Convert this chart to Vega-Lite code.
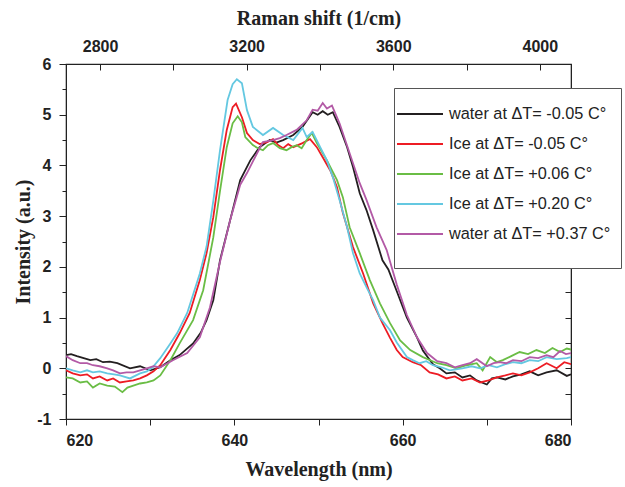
{
  "$schema": "https://vega.github.io/schema/vega-lite/v6.json",
  "width": 505,
  "height": 355,
  "autosize": {"type": "none"},
  "padding": {"left": 66, "top": 64, "right": 54, "bottom": 68},
  "background": "white",
  "config": {
    "view": {"stroke": "#222", "strokeWidth": 1.2},
    "axis": {
      "grid": false,
      "domainColor": "#222",
      "tickColor": "#222",
      "labelColor": "#222",
      "titleColor": "#222",
      "labelFont": "Liberation Sans",
      "labelFontWeight": "bold",
      "labelFontSize": 16,
      "titleFont": "Liberation Serif",
      "titleFontWeight": "bold",
      "titleFontSize": 20
    },
    "legend": {
      "labelFont": "Liberation Sans",
      "labelFontSize": 16.3,
      "labelColor": "#222"
    }
  },
  "layer": [
    {
      "data": {
        "values": [
          {"s": "water at ΔT= -0.05 C°", "w": 620.0, "i": 0.26},
          {"s": "water at ΔT= -0.05 C°", "w": 620.6, "i": 0.28},
          {"s": "water at ΔT= -0.05 C°", "w": 621.3, "i": 0.24},
          {"s": "water at ΔT= -0.05 C°", "w": 622.1, "i": 0.2},
          {"s": "water at ΔT= -0.05 C°", "w": 622.9, "i": 0.16},
          {"s": "water at ΔT= -0.05 C°", "w": 623.6, "i": 0.18},
          {"s": "water at ΔT= -0.05 C°", "w": 624.4, "i": 0.12},
          {"s": "water at ΔT= -0.05 C°", "w": 625.2, "i": 0.13},
          {"s": "water at ΔT= -0.05 C°", "w": 626.1, "i": 0.1},
          {"s": "water at ΔT= -0.05 C°", "w": 627.6, "i": 0.0},
          {"s": "water at ΔT= -0.05 C°", "w": 628.8, "i": 0.04},
          {"s": "water at ΔT= -0.05 C°", "w": 630.0, "i": -0.04},
          {"s": "water at ΔT= -0.05 C°", "w": 631.2, "i": 0.02},
          {"s": "water at ΔT= -0.05 C°", "w": 632.4, "i": 0.16},
          {"s": "water at ΔT= -0.05 C°", "w": 633.5, "i": 0.26},
          {"s": "water at ΔT= -0.05 C°", "w": 635.1, "i": 0.49},
          {"s": "water at ΔT= -0.05 C°", "w": 636.0, "i": 0.7},
          {"s": "water at ΔT= -0.05 C°", "w": 636.7, "i": 0.95},
          {"s": "water at ΔT= -0.05 C°", "w": 637.5, "i": 1.34},
          {"s": "water at ΔT= -0.05 C°", "w": 638.3, "i": 2.13},
          {"s": "water at ΔT= -0.05 C°", "w": 639.5, "i": 2.92},
          {"s": "water at ΔT= -0.05 C°", "w": 640.7, "i": 3.71},
          {"s": "water at ΔT= -0.05 C°", "w": 641.9, "i": 4.1},
          {"s": "water at ΔT= -0.05 C°", "w": 643.0, "i": 4.36},
          {"s": "water at ΔT= -0.05 C°", "w": 644.2, "i": 4.5},
          {"s": "water at ΔT= -0.05 C°", "w": 645.0, "i": 4.45},
          {"s": "water at ΔT= -0.05 C°", "w": 645.8, "i": 4.5},
          {"s": "water at ΔT= -0.05 C°", "w": 647.0, "i": 4.6},
          {"s": "water at ΔT= -0.05 C°", "w": 648.1, "i": 4.76},
          {"s": "water at ΔT= -0.05 C°", "w": 649.3, "i": 5.05},
          {"s": "water at ΔT= -0.05 C°", "w": 649.9, "i": 5.0},
          {"s": "water at ΔT= -0.05 C°", "w": 650.5, "i": 5.07},
          {"s": "water at ΔT= -0.05 C°", "w": 651.1, "i": 5.0},
          {"s": "water at ΔT= -0.05 C°", "w": 651.7, "i": 5.05},
          {"s": "water at ΔT= -0.05 C°", "w": 652.5, "i": 4.76},
          {"s": "water at ΔT= -0.05 C°", "w": 653.4, "i": 4.36},
          {"s": "water at ΔT= -0.05 C°", "w": 654.1, "i": 3.97},
          {"s": "water at ΔT= -0.05 C°", "w": 654.9, "i": 3.45},
          {"s": "water at ΔT= -0.05 C°", "w": 655.7, "i": 3.12},
          {"s": "water at ΔT= -0.05 C°", "w": 656.5, "i": 2.72},
          {"s": "water at ΔT= -0.05 C°", "w": 657.6, "i": 2.13},
          {"s": "water at ΔT= -0.05 C°", "w": 658.3, "i": 1.95},
          {"s": "water at ΔT= -0.05 C°", "w": 659.3, "i": 1.52},
          {"s": "water at ΔT= -0.05 C°", "w": 660.5, "i": 1.0},
          {"s": "water at ΔT= -0.05 C°", "w": 661.7, "i": 0.61},
          {"s": "water at ΔT= -0.05 C°", "w": 662.4, "i": 0.35},
          {"s": "water at ΔT= -0.05 C°", "w": 663.6, "i": 0.08},
          {"s": "water at ΔT= -0.05 C°", "w": 664.4, "i": 0.0},
          {"s": "water at ΔT= -0.05 C°", "w": 665.2, "i": -0.1},
          {"s": "water at ΔT= -0.05 C°", "w": 666.2, "i": -0.08},
          {"s": "water at ΔT= -0.05 C°", "w": 667.1, "i": -0.18},
          {"s": "water at ΔT= -0.05 C°", "w": 668.0, "i": -0.14},
          {"s": "water at ΔT= -0.05 C°", "w": 668.8, "i": -0.24},
          {"s": "water at ΔT= -0.05 C°", "w": 670.0, "i": -0.32},
          {"s": "water at ΔT= -0.05 C°", "w": 670.6, "i": -0.2},
          {"s": "water at ΔT= -0.05 C°", "w": 671.2, "i": -0.18},
          {"s": "water at ΔT= -0.05 C°", "w": 672.2, "i": -0.22},
          {"s": "water at ΔT= -0.05 C°", "w": 673.1, "i": -0.16},
          {"s": "water at ΔT= -0.05 C°", "w": 674.1, "i": -0.12},
          {"s": "water at ΔT= -0.05 C°", "w": 675.1, "i": -0.06},
          {"s": "water at ΔT= -0.05 C°", "w": 676.1, "i": -0.14},
          {"s": "water at ΔT= -0.05 C°", "w": 677.1, "i": -0.08},
          {"s": "water at ΔT= -0.05 C°", "w": 678.3, "i": -0.04},
          {"s": "water at ΔT= -0.05 C°", "w": 679.5, "i": -0.15},
          {"s": "water at ΔT= -0.05 C°", "w": 680.0, "i": -0.12},

          {"s": "Ice at ΔT= -0.05 C°", "w": 620.0, "i": -0.04},
          {"s": "Ice at ΔT= -0.05 C°", "w": 620.8, "i": -0.1},
          {"s": "Ice at ΔT= -0.05 C°", "w": 621.7, "i": -0.14},
          {"s": "Ice at ΔT= -0.05 C°", "w": 622.5, "i": -0.12},
          {"s": "Ice at ΔT= -0.05 C°", "w": 623.2, "i": -0.2},
          {"s": "Ice at ΔT= -0.05 C°", "w": 624.0, "i": -0.16},
          {"s": "Ice at ΔT= -0.05 C°", "w": 624.9, "i": -0.24},
          {"s": "Ice at ΔT= -0.05 C°", "w": 625.6, "i": -0.2},
          {"s": "Ice at ΔT= -0.05 C°", "w": 626.4, "i": -0.28},
          {"s": "Ice at ΔT= -0.05 C°", "w": 627.2, "i": -0.26},
          {"s": "Ice at ΔT= -0.05 C°", "w": 628.0, "i": -0.24},
          {"s": "Ice at ΔT= -0.05 C°", "w": 628.8, "i": -0.2},
          {"s": "Ice at ΔT= -0.05 C°", "w": 629.6, "i": -0.14},
          {"s": "Ice at ΔT= -0.05 C°", "w": 630.4, "i": -0.06},
          {"s": "Ice at ΔT= -0.05 C°", "w": 631.2, "i": 0.06},
          {"s": "Ice at ΔT= -0.05 C°", "w": 632.4, "i": 0.36},
          {"s": "Ice at ΔT= -0.05 C°", "w": 633.5, "i": 0.69},
          {"s": "Ice at ΔT= -0.05 C°", "w": 634.7, "i": 1.09},
          {"s": "Ice at ΔT= -0.05 C°", "w": 635.9, "i": 1.74},
          {"s": "Ice at ΔT= -0.05 C°", "w": 636.7, "i": 2.27},
          {"s": "Ice at ΔT= -0.05 C°", "w": 637.5, "i": 2.98},
          {"s": "Ice at ΔT= -0.05 C°", "w": 638.3, "i": 3.91},
          {"s": "Ice at ΔT= -0.05 C°", "w": 639.1, "i": 4.7},
          {"s": "Ice at ΔT= -0.05 C°", "w": 639.8, "i": 5.15},
          {"s": "Ice at ΔT= -0.05 C°", "w": 640.2, "i": 5.22},
          {"s": "Ice at ΔT= -0.05 C°", "w": 640.9, "i": 4.95},
          {"s": "Ice at ΔT= -0.05 C°", "w": 641.5, "i": 4.64},
          {"s": "Ice at ΔT= -0.05 C°", "w": 642.2, "i": 4.5},
          {"s": "Ice at ΔT= -0.05 C°", "w": 643.0, "i": 4.42},
          {"s": "Ice at ΔT= -0.05 C°", "w": 643.9, "i": 4.46},
          {"s": "Ice at ΔT= -0.05 C°", "w": 644.6, "i": 4.52},
          {"s": "Ice at ΔT= -0.05 C°", "w": 645.2, "i": 4.4},
          {"s": "Ice at ΔT= -0.05 C°", "w": 645.8, "i": 4.34},
          {"s": "Ice at ΔT= -0.05 C°", "w": 646.4, "i": 4.42},
          {"s": "Ice at ΔT= -0.05 C°", "w": 647.0, "i": 4.36},
          {"s": "Ice at ΔT= -0.05 C°", "w": 648.1, "i": 4.44},
          {"s": "Ice at ΔT= -0.05 C°", "w": 649.0, "i": 4.52},
          {"s": "Ice at ΔT= -0.05 C°", "w": 649.8, "i": 4.36},
          {"s": "Ice at ΔT= -0.05 C°", "w": 650.5, "i": 4.16},
          {"s": "Ice at ΔT= -0.05 C°", "w": 651.4, "i": 3.9},
          {"s": "Ice at ΔT= -0.05 C°", "w": 652.2, "i": 3.57},
          {"s": "Ice at ΔT= -0.05 C°", "w": 652.9, "i": 3.06},
          {"s": "Ice at ΔT= -0.05 C°", "w": 654.1, "i": 2.39},
          {"s": "Ice at ΔT= -0.05 C°", "w": 655.3, "i": 1.87},
          {"s": "Ice at ΔT= -0.05 C°", "w": 656.5, "i": 1.28},
          {"s": "Ice at ΔT= -0.05 C°", "w": 657.6, "i": 0.89},
          {"s": "Ice at ΔT= -0.05 C°", "w": 658.5, "i": 0.6},
          {"s": "Ice at ΔT= -0.05 C°", "w": 659.3, "i": 0.36},
          {"s": "Ice at ΔT= -0.05 C°", "w": 660.0, "i": 0.22},
          {"s": "Ice at ΔT= -0.05 C°", "w": 661.2, "i": 0.12},
          {"s": "Ice at ΔT= -0.05 C°", "w": 662.2, "i": 0.06},
          {"s": "Ice at ΔT= -0.05 C°", "w": 663.2, "i": -0.08},
          {"s": "Ice at ΔT= -0.05 C°", "w": 664.2, "i": -0.12},
          {"s": "Ice at ΔT= -0.05 C°", "w": 665.2, "i": -0.2},
          {"s": "Ice at ΔT= -0.05 C°", "w": 666.2, "i": -0.16},
          {"s": "Ice at ΔT= -0.05 C°", "w": 667.1, "i": -0.24},
          {"s": "Ice at ΔT= -0.05 C°", "w": 668.2, "i": -0.2},
          {"s": "Ice at ΔT= -0.05 C°", "w": 669.2, "i": -0.28},
          {"s": "Ice at ΔT= -0.05 C°", "w": 670.2, "i": -0.24},
          {"s": "Ice at ΔT= -0.05 C°", "w": 671.2, "i": -0.18},
          {"s": "Ice at ΔT= -0.05 C°", "w": 672.2, "i": -0.14},
          {"s": "Ice at ΔT= -0.05 C°", "w": 673.1, "i": -0.1},
          {"s": "Ice at ΔT= -0.05 C°", "w": 674.1, "i": -0.14},
          {"s": "Ice at ΔT= -0.05 C°", "w": 675.1, "i": -0.08},
          {"s": "Ice at ΔT= -0.05 C°", "w": 676.1, "i": 0.0},
          {"s": "Ice at ΔT= -0.05 C°", "w": 677.1, "i": 0.1},
          {"s": "Ice at ΔT= -0.05 C°", "w": 678.3, "i": 0.0},
          {"s": "Ice at ΔT= -0.05 C°", "w": 679.2, "i": 0.12},
          {"s": "Ice at ΔT= -0.05 C°", "w": 680.0, "i": 0.08},

          {"s": "Ice at ΔT= +0.06 C°", "w": 620.0, "i": -0.18},
          {"s": "Ice at ΔT= +0.06 C°", "w": 620.8, "i": -0.2},
          {"s": "Ice at ΔT= +0.06 C°", "w": 621.7, "i": -0.28},
          {"s": "Ice at ΔT= +0.06 C°", "w": 622.5, "i": -0.26},
          {"s": "Ice at ΔT= +0.06 C°", "w": 623.2, "i": -0.38},
          {"s": "Ice at ΔT= +0.06 C°", "w": 624.0, "i": -0.3},
          {"s": "Ice at ΔT= +0.06 C°", "w": 624.9, "i": -0.34},
          {"s": "Ice at ΔT= +0.06 C°", "w": 625.8, "i": -0.36},
          {"s": "Ice at ΔT= +0.06 C°", "w": 626.7, "i": -0.47},
          {"s": "Ice at ΔT= +0.06 C°", "w": 627.3, "i": -0.38},
          {"s": "Ice at ΔT= +0.06 C°", "w": 628.0, "i": -0.34},
          {"s": "Ice at ΔT= +0.06 C°", "w": 628.8, "i": -0.3},
          {"s": "Ice at ΔT= +0.06 C°", "w": 629.6, "i": -0.28},
          {"s": "Ice at ΔT= +0.06 C°", "w": 630.4, "i": -0.24},
          {"s": "Ice at ΔT= +0.06 C°", "w": 631.2, "i": -0.14},
          {"s": "Ice at ΔT= +0.06 C°", "w": 632.4, "i": 0.16},
          {"s": "Ice at ΔT= +0.06 C°", "w": 633.5, "i": 0.49},
          {"s": "Ice at ΔT= +0.06 C°", "w": 635.1, "i": 0.95},
          {"s": "Ice at ΔT= +0.06 C°", "w": 636.3, "i": 1.54},
          {"s": "Ice at ΔT= +0.06 C°", "w": 637.5, "i": 2.58},
          {"s": "Ice at ΔT= +0.06 C°", "w": 638.3, "i": 3.5},
          {"s": "Ice at ΔT= +0.06 C°", "w": 639.1, "i": 4.36},
          {"s": "Ice at ΔT= +0.06 C°", "w": 639.8, "i": 4.83},
          {"s": "Ice at ΔT= +0.06 C°", "w": 640.4, "i": 4.97},
          {"s": "Ice at ΔT= +0.06 C°", "w": 640.9, "i": 4.85},
          {"s": "Ice at ΔT= +0.06 C°", "w": 641.3, "i": 4.56},
          {"s": "Ice at ΔT= +0.06 C°", "w": 642.2, "i": 4.4},
          {"s": "Ice at ΔT= +0.06 C°", "w": 642.8, "i": 4.34},
          {"s": "Ice at ΔT= +0.06 C°", "w": 643.4, "i": 4.3},
          {"s": "Ice at ΔT= +0.06 C°", "w": 644.0, "i": 4.4},
          {"s": "Ice at ΔT= +0.06 C°", "w": 644.6, "i": 4.44},
          {"s": "Ice at ΔT= +0.06 C°", "w": 645.4, "i": 4.34},
          {"s": "Ice at ΔT= +0.06 C°", "w": 646.2, "i": 4.3},
          {"s": "Ice at ΔT= +0.06 C°", "w": 646.8, "i": 4.36},
          {"s": "Ice at ΔT= +0.06 C°", "w": 647.4, "i": 4.4},
          {"s": "Ice at ΔT= +0.06 C°", "w": 648.0, "i": 4.34},
          {"s": "Ice at ΔT= +0.06 C°", "w": 648.6, "i": 4.5},
          {"s": "Ice at ΔT= +0.06 C°", "w": 649.2, "i": 4.64},
          {"s": "Ice at ΔT= +0.06 C°", "w": 649.8, "i": 4.44},
          {"s": "Ice at ΔT= +0.06 C°", "w": 651.0, "i": 4.1},
          {"s": "Ice at ΔT= +0.06 C°", "w": 652.2, "i": 3.71},
          {"s": "Ice at ΔT= +0.06 C°", "w": 652.9, "i": 3.37},
          {"s": "Ice at ΔT= +0.06 C°", "w": 653.7, "i": 2.78},
          {"s": "Ice at ΔT= +0.06 C°", "w": 654.9, "i": 2.27},
          {"s": "Ice at ΔT= +0.06 C°", "w": 656.1, "i": 1.74},
          {"s": "Ice at ΔT= +0.06 C°", "w": 657.3, "i": 1.28},
          {"s": "Ice at ΔT= +0.06 C°", "w": 658.5, "i": 0.89},
          {"s": "Ice at ΔT= +0.06 C°", "w": 659.7, "i": 0.55},
          {"s": "Ice at ΔT= +0.06 C°", "w": 660.9, "i": 0.36},
          {"s": "Ice at ΔT= +0.06 C°", "w": 662.4, "i": 0.22},
          {"s": "Ice at ΔT= +0.06 C°", "w": 664.1, "i": 0.1},
          {"s": "Ice at ΔT= +0.06 C°", "w": 665.2, "i": 0.06},
          {"s": "Ice at ΔT= +0.06 C°", "w": 666.4, "i": 0.0},
          {"s": "Ice at ΔT= +0.06 C°", "w": 667.6, "i": 0.06},
          {"s": "Ice at ΔT= +0.06 C°", "w": 668.8, "i": 0.1},
          {"s": "Ice at ΔT= +0.06 C°", "w": 669.5, "i": -0.04},
          {"s": "Ice at ΔT= +0.06 C°", "w": 670.4, "i": 0.22},
          {"s": "Ice at ΔT= +0.06 C°", "w": 671.2, "i": 0.12},
          {"s": "Ice at ΔT= +0.06 C°", "w": 671.9, "i": 0.16},
          {"s": "Ice at ΔT= +0.06 C°", "w": 672.9, "i": 0.24},
          {"s": "Ice at ΔT= +0.06 C°", "w": 673.9, "i": 0.32},
          {"s": "Ice at ΔT= +0.06 C°", "w": 674.9, "i": 0.28},
          {"s": "Ice at ΔT= +0.06 C°", "w": 675.9, "i": 0.36},
          {"s": "Ice at ΔT= +0.06 C°", "w": 676.9, "i": 0.3},
          {"s": "Ice at ΔT= +0.06 C°", "w": 677.8, "i": 0.4},
          {"s": "Ice at ΔT= +0.06 C°", "w": 678.7, "i": 0.32},
          {"s": "Ice at ΔT= +0.06 C°", "w": 679.5, "i": 0.39},
          {"s": "Ice at ΔT= +0.06 C°", "w": 680.0, "i": 0.37},

          {"s": "Ice at ΔT= +0.20 C°", "w": 620.0, "i": 0.0},
          {"s": "Ice at ΔT= +0.20 C°", "w": 620.8, "i": -0.04},
          {"s": "Ice at ΔT= +0.20 C°", "w": 621.7, "i": -0.08},
          {"s": "Ice at ΔT= +0.20 C°", "w": 622.5, "i": -0.04},
          {"s": "Ice at ΔT= +0.20 C°", "w": 623.2, "i": -0.08},
          {"s": "Ice at ΔT= +0.20 C°", "w": 624.0, "i": -0.06},
          {"s": "Ice at ΔT= +0.20 C°", "w": 624.9, "i": -0.1},
          {"s": "Ice at ΔT= +0.20 C°", "w": 625.7, "i": -0.12},
          {"s": "Ice at ΔT= +0.20 C°", "w": 626.4, "i": -0.14},
          {"s": "Ice at ΔT= +0.20 C°", "w": 627.6, "i": -0.2},
          {"s": "Ice at ΔT= +0.20 C°", "w": 628.8, "i": -0.1},
          {"s": "Ice at ΔT= +0.20 C°", "w": 629.6, "i": -0.06},
          {"s": "Ice at ΔT= +0.20 C°", "w": 630.3, "i": 0.02},
          {"s": "Ice at ΔT= +0.20 C°", "w": 631.2, "i": 0.2},
          {"s": "Ice at ΔT= +0.20 C°", "w": 632.4, "i": 0.49},
          {"s": "Ice at ΔT= +0.20 C°", "w": 633.2, "i": 0.69},
          {"s": "Ice at ΔT= +0.20 C°", "w": 634.4, "i": 1.09},
          {"s": "Ice at ΔT= +0.20 C°", "w": 635.9, "i": 1.87},
          {"s": "Ice at ΔT= +0.20 C°", "w": 636.7, "i": 2.4},
          {"s": "Ice at ΔT= +0.20 C°", "w": 637.5, "i": 3.3},
          {"s": "Ice at ΔT= +0.20 C°", "w": 638.3, "i": 4.3},
          {"s": "Ice at ΔT= +0.20 C°", "w": 639.2, "i": 5.29},
          {"s": "Ice at ΔT= +0.20 C°", "w": 639.8, "i": 5.6},
          {"s": "Ice at ΔT= +0.20 C°", "w": 640.3, "i": 5.7},
          {"s": "Ice at ΔT= +0.20 C°", "w": 640.9, "i": 5.62},
          {"s": "Ice at ΔT= +0.20 C°", "w": 641.5, "i": 5.09},
          {"s": "Ice at ΔT= +0.20 C°", "w": 642.2, "i": 4.76},
          {"s": "Ice at ΔT= +0.20 C°", "w": 643.4, "i": 4.6},
          {"s": "Ice at ΔT= +0.20 C°", "w": 644.6, "i": 4.74},
          {"s": "Ice at ΔT= +0.20 C°", "w": 645.8, "i": 4.6},
          {"s": "Ice at ΔT= +0.20 C°", "w": 647.0, "i": 4.5},
          {"s": "Ice at ΔT= +0.20 C°", "w": 648.1, "i": 4.74},
          {"s": "Ice at ΔT= +0.20 C°", "w": 648.6, "i": 4.56},
          {"s": "Ice at ΔT= +0.20 C°", "w": 649.3, "i": 4.66},
          {"s": "Ice at ΔT= +0.20 C°", "w": 650.2, "i": 4.36},
          {"s": "Ice at ΔT= +0.20 C°", "w": 651.0, "i": 4.1},
          {"s": "Ice at ΔT= +0.20 C°", "w": 651.7, "i": 3.77},
          {"s": "Ice at ΔT= +0.20 C°", "w": 652.5, "i": 3.32},
          {"s": "Ice at ΔT= +0.20 C°", "w": 653.4, "i": 2.78},
          {"s": "Ice at ΔT= +0.20 C°", "w": 654.1, "i": 2.27},
          {"s": "Ice at ΔT= +0.20 C°", "w": 654.9, "i": 1.87},
          {"s": "Ice at ΔT= +0.20 C°", "w": 655.7, "i": 1.6},
          {"s": "Ice at ΔT= +0.20 C°", "w": 656.5, "i": 1.34},
          {"s": "Ice at ΔT= +0.20 C°", "w": 657.3, "i": 1.0},
          {"s": "Ice at ΔT= +0.20 C°", "w": 658.5, "i": 0.75},
          {"s": "Ice at ΔT= +0.20 C°", "w": 659.3, "i": 0.51},
          {"s": "Ice at ΔT= +0.20 C°", "w": 660.5, "i": 0.22},
          {"s": "Ice at ΔT= +0.20 C°", "w": 661.2, "i": 0.16},
          {"s": "Ice at ΔT= +0.20 C°", "w": 662.0, "i": 0.1},
          {"s": "Ice at ΔT= +0.20 C°", "w": 662.8, "i": 0.14},
          {"s": "Ice at ΔT= +0.20 C°", "w": 663.6, "i": 0.06},
          {"s": "Ice at ΔT= +0.20 C°", "w": 664.6, "i": 0.02},
          {"s": "Ice at ΔT= +0.20 C°", "w": 665.6, "i": -0.04},
          {"s": "Ice at ΔT= +0.20 C°", "w": 667.1, "i": 0.0},
          {"s": "Ice at ΔT= +0.20 C°", "w": 668.2, "i": 0.04},
          {"s": "Ice at ΔT= +0.20 C°", "w": 669.2, "i": 0.0},
          {"s": "Ice at ΔT= +0.20 C°", "w": 670.2, "i": 0.06},
          {"s": "Ice at ΔT= +0.20 C°", "w": 671.2, "i": 0.02},
          {"s": "Ice at ΔT= +0.20 C°", "w": 672.2, "i": 0.08},
          {"s": "Ice at ΔT= +0.20 C°", "w": 673.1, "i": 0.12},
          {"s": "Ice at ΔT= +0.20 C°", "w": 674.1, "i": 0.1},
          {"s": "Ice at ΔT= +0.20 C°", "w": 675.1, "i": 0.16},
          {"s": "Ice at ΔT= +0.20 C°", "w": 676.1, "i": 0.14},
          {"s": "Ice at ΔT= +0.20 C°", "w": 677.1, "i": 0.22},
          {"s": "Ice at ΔT= +0.20 C°", "w": 678.3, "i": 0.18},
          {"s": "Ice at ΔT= +0.20 C°", "w": 679.5, "i": 0.2},
          {"s": "Ice at ΔT= +0.20 C°", "w": 680.0, "i": 0.22},

          {"s": "water at ΔT= +0.37 C°", "w": 620.0, "i": 0.24},
          {"s": "water at ΔT= +0.37 C°", "w": 620.8, "i": 0.16},
          {"s": "water at ΔT= +0.37 C°", "w": 621.7, "i": 0.1},
          {"s": "water at ΔT= +0.37 C°", "w": 622.5, "i": 0.1},
          {"s": "water at ΔT= +0.37 C°", "w": 623.2, "i": 0.06},
          {"s": "water at ΔT= +0.37 C°", "w": 624.0, "i": 0.04},
          {"s": "water at ΔT= +0.37 C°", "w": 624.9, "i": 0.0},
          {"s": "water at ΔT= +0.37 C°", "w": 625.6, "i": -0.04},
          {"s": "water at ΔT= +0.37 C°", "w": 626.4, "i": -0.1},
          {"s": "water at ΔT= +0.37 C°", "w": 627.2, "i": -0.08},
          {"s": "water at ΔT= +0.37 C°", "w": 628.0, "i": -0.08},
          {"s": "water at ΔT= +0.37 C°", "w": 628.8, "i": -0.04},
          {"s": "water at ΔT= +0.37 C°", "w": 629.6, "i": 0.0},
          {"s": "water at ΔT= +0.37 C°", "w": 630.4, "i": 0.04},
          {"s": "water at ΔT= +0.37 C°", "w": 631.2, "i": 0.02},
          {"s": "water at ΔT= +0.37 C°", "w": 632.7, "i": 0.16},
          {"s": "water at ΔT= +0.37 C°", "w": 634.4, "i": 0.3},
          {"s": "water at ΔT= +0.37 C°", "w": 635.9, "i": 0.61},
          {"s": "water at ΔT= +0.37 C°", "w": 637.1, "i": 1.2},
          {"s": "water at ΔT= +0.37 C°", "w": 638.3, "i": 2.1},
          {"s": "water at ΔT= +0.37 C°", "w": 639.5, "i": 2.92},
          {"s": "water at ΔT= +0.37 C°", "w": 640.7, "i": 3.62},
          {"s": "water at ΔT= +0.37 C°", "w": 641.5, "i": 3.85},
          {"s": "water at ΔT= +0.37 C°", "w": 642.7, "i": 4.24},
          {"s": "water at ΔT= +0.37 C°", "w": 643.4, "i": 4.46},
          {"s": "water at ΔT= +0.37 C°", "w": 644.6, "i": 4.5},
          {"s": "water at ΔT= +0.37 C°", "w": 645.4, "i": 4.54},
          {"s": "water at ΔT= +0.37 C°", "w": 646.2, "i": 4.6},
          {"s": "water at ΔT= +0.37 C°", "w": 647.4, "i": 4.7},
          {"s": "water at ΔT= +0.37 C°", "w": 648.6, "i": 4.89},
          {"s": "water at ΔT= +0.37 C°", "w": 649.3, "i": 5.1},
          {"s": "water at ΔT= +0.37 C°", "w": 649.9, "i": 5.08},
          {"s": "water at ΔT= +0.37 C°", "w": 650.5, "i": 5.23},
          {"s": "water at ΔT= +0.37 C°", "w": 651.0, "i": 5.12},
          {"s": "water at ΔT= +0.37 C°", "w": 651.6, "i": 5.18},
          {"s": "water at ΔT= +0.37 C°", "w": 652.5, "i": 4.83},
          {"s": "water at ΔT= +0.37 C°", "w": 653.7, "i": 4.24},
          {"s": "water at ΔT= +0.37 C°", "w": 654.9, "i": 3.65},
          {"s": "water at ΔT= +0.37 C°", "w": 655.7, "i": 3.32},
          {"s": "water at ΔT= +0.37 C°", "w": 656.9, "i": 2.78},
          {"s": "water at ΔT= +0.37 C°", "w": 658.1, "i": 2.33},
          {"s": "water at ΔT= +0.37 C°", "w": 659.3, "i": 1.65},
          {"s": "water at ΔT= +0.37 C°", "w": 660.5, "i": 1.05},
          {"s": "water at ΔT= +0.37 C°", "w": 661.7, "i": 0.61},
          {"s": "water at ΔT= +0.37 C°", "w": 662.9, "i": 0.3},
          {"s": "water at ΔT= +0.37 C°", "w": 664.1, "i": 0.14},
          {"s": "water at ΔT= +0.37 C°", "w": 665.2, "i": 0.1},
          {"s": "water at ΔT= +0.37 C°", "w": 666.2, "i": 0.02},
          {"s": "water at ΔT= +0.37 C°", "w": 667.1, "i": 0.06},
          {"s": "water at ΔT= +0.37 C°", "w": 668.0, "i": 0.1},
          {"s": "water at ΔT= +0.37 C°", "w": 668.8, "i": 0.18},
          {"s": "water at ΔT= +0.37 C°", "w": 670.0, "i": 0.04},
          {"s": "water at ΔT= +0.37 C°", "w": 670.8, "i": 0.1},
          {"s": "water at ΔT= +0.37 C°", "w": 671.5, "i": 0.12},
          {"s": "water at ΔT= +0.37 C°", "w": 672.3, "i": 0.1},
          {"s": "water at ΔT= +0.37 C°", "w": 673.1, "i": 0.16},
          {"s": "water at ΔT= +0.37 C°", "w": 674.1, "i": 0.14},
          {"s": "water at ΔT= +0.37 C°", "w": 675.1, "i": 0.22},
          {"s": "water at ΔT= +0.37 C°", "w": 676.1, "i": 0.2},
          {"s": "water at ΔT= +0.37 C°", "w": 677.1, "i": 0.26},
          {"s": "water at ΔT= +0.37 C°", "w": 677.9, "i": 0.22},
          {"s": "water at ΔT= +0.37 C°", "w": 678.7, "i": 0.34},
          {"s": "water at ΔT= +0.37 C°", "w": 679.4, "i": 0.28},
          {"s": "water at ΔT= +0.37 C°", "w": 680.0, "i": 0.3}
        ]
      },
      "mark": {"type": "line", "strokeWidth": 1.8, "clip": true},
      "encoding": {
        "x": {
          "field": "w",
          "type": "quantitative",
          "scale": {"domain": [620, 680], "nice": false, "zero": false},
          "axis": {
            "orient": "bottom",
            "title": "Wavelength (nm)",
            "values": [620, 630, 640, 650, 660, 670, 680],
            "labelExpr": "datum.value % 20 === 0 ? datum.label : ''",
            "tickSize": 6,
            "labelPadding": 7,
            "titlePadding": 11
          }
        },
        "y": {
          "field": "i",
          "type": "quantitative",
          "scale": {"domain": [-1, 6], "nice": false, "zero": false},
          "axis": {
            "orient": "left",
            "title": "Intensity (a.u.)",
            "values": [-1, -0.5, 0, 0.5, 1, 1.5, 2, 2.5, 3, 3.5, 4, 4.5, 5, 5.5, 6],
            "labelExpr": "datum.value % 1 === 0 ? toString(datum.value) : ''",
            "tickSize": {"condition": {"test": "datum.value % 1 !== 0", "value": 4}, "value": 7},
            "labelPadding": 8,
            "titlePadding": 3
          }
        },
        "color": {
          "field": "s",
          "type": "nominal",
          "sort": ["water at ΔT= -0.05 C°", "Ice at ΔT= -0.05 C°", "Ice at ΔT= +0.06 C°", "Ice at ΔT= +0.20 C°", "water at ΔT= +0.37 C°"],
          "scale": {
            "domain": ["water at ΔT= -0.05 C°", "Ice at ΔT= -0.05 C°", "Ice at ΔT= +0.06 C°", "Ice at ΔT= +0.20 C°", "water at ΔT= +0.37 C°"],
            "range": ["#231f20", "#ed1c24", "#6abd45", "#64c8e1", "#b35aa6"]
          },
          "legend": {
            "title": "\u00a0",
            "titleOrient": "bottom",
            "titleFontSize": 16,
            "titlePadding": 0,
            "orient": "none",
            "legendX": 328,
            "legendY": 24,
            "fillColor": "white",
            "strokeColor": "#555",
            "padding": 10,
            "symbolType": "M-1.533,0H1.533",
            "symbolSize": 900,
            "symbolStrokeWidth": 2,
            "rowPadding": 5,
            "labelOffset": 13,
            "labelLimit": 300
          }
        }
      }
    },
    {
      "data": {"values": [{"r": 2800, "v": 0}]},
      "mark": {"type": "point", "opacity": 0},
      "encoding": {
        "x": {
          "field": "r",
          "type": "quantitative",
          "scale": {"domain": [2707, 4085], "nice": false, "zero": false},
          "axis": {
            "orient": "top",
            "title": "Raman shift (1/cm)",
            "values": [2800, 3000, 3200, 3400, 3600, 3800, 4000],
            "labelExpr": "datum.value % 400 === 0 ? toString(datum.value) : ''",
            "tickSize": -6,
            "labelPadding": 16,
            "titlePadding": 10
          }
        },
        "y": {
          "field": "v",
          "type": "quantitative",
          "axis": {
            "orient": "right",
            "title": null,
            "labels": false,
            "values": [-1, -0.5, 0, 0.5, 1, 1.5, 2, 2.5, 3, 3.5, 4, 4.5, 5, 5.5, 6],
            "tickSize": -6
          }
        }
      }
    }
  ],
  "resolve": {
    "scale": {"x": "independent"},
    "axis": {"x": "independent", "y": "independent"}
  }
}
